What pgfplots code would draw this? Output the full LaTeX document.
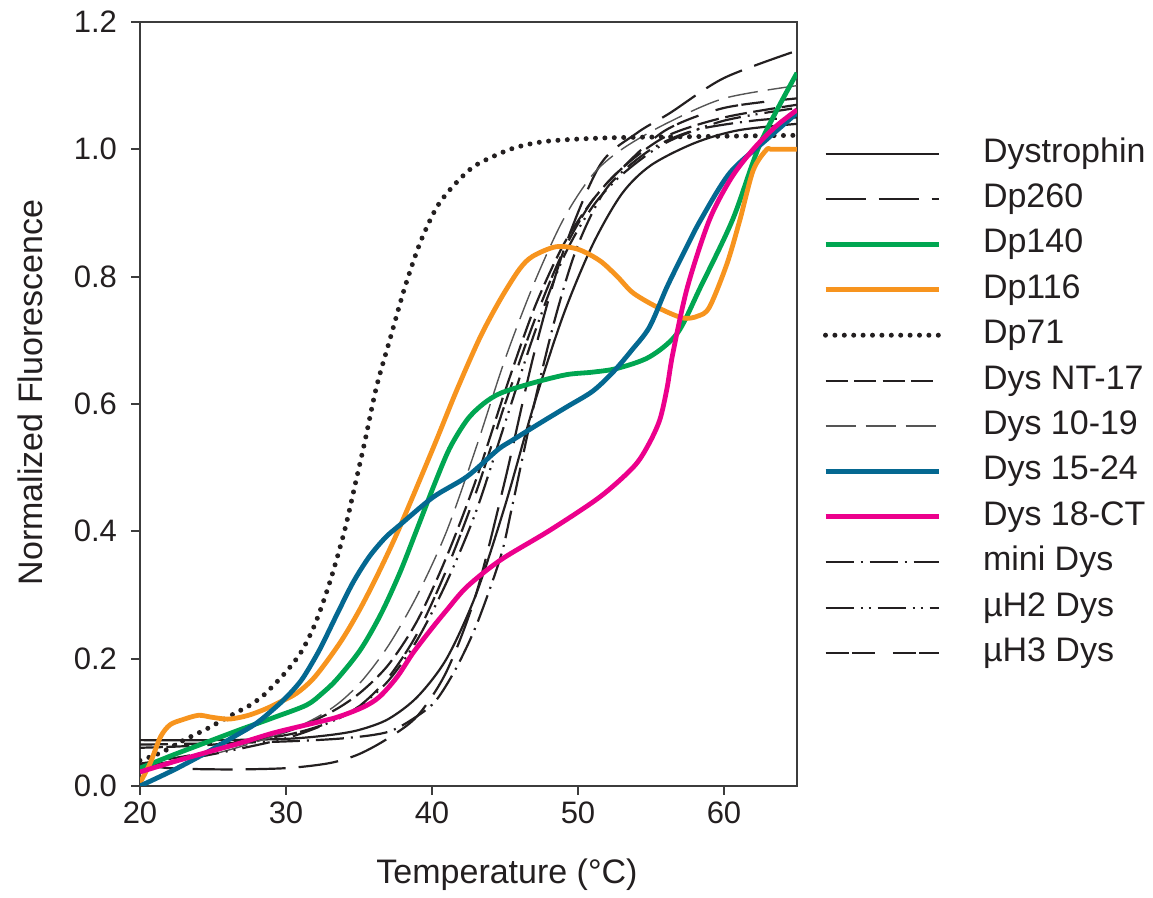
\documentclass[border=0pt]{standalone}
\usepackage{fontspec}
\setmainfont{Liberation Sans}
\usepackage{pgfplots}
\pgfplotsset{compat=1.18}
\definecolor{cgreen}{RGB}{0,166,81}
\definecolor{corange}{RGB}{247,148,30}
\definecolor{cblue}{RGB}{4,104,145}
\definecolor{cpink}{RGB}{236,0,140}
\definecolor{cblack}{RGB}{35,31,32}
\definecolor{cgray}{RGB}{85,85,85}
\definecolor{caxis}{RGB}{60,60,60}
\tikzset{
 sdys/.style={cblack, line width=1.1pt},
 sdp260/.style={cblack, line width=1.1pt, dash pattern=on 20pt off 6.5pt},
 sdp140/.style={cgreen, line width=2.4pt},
 sdp116/.style={corange, line width=2.4pt},
 sdp71/.style={cblack, line width=2.5pt, line cap=round, dash pattern=on 0pt off 4.7pt},
 snt/.style={cblack, line width=1.1pt, dash pattern=on 11pt off 3.3pt},
 sten/.style={cgray, line width=0.7pt, dash pattern=on 15pt off 5pt},
 sfif/.style={cblue, line width=2.4pt},
 seig/.style={cpink, line width=2.4pt},
 smini/.style={cblack, line width=1.1pt, dash pattern=on 14pt off 3.5pt on 1pt off 3.5pt},
 shtwo/.style={cblack, line width=1.1pt, dash pattern=on 14pt off 3.5pt on 1pt off 3pt on 1pt off 3.5pt},
 shthree/.style={cblack, line width=1.1pt, dash pattern=on 11.5pt off 1.7pt on 11.5pt off 9pt},
}
\begin{document}
\begin{tikzpicture}
\begin{axis}[
 scale only axis, width=328.5pt, height=382pt,
 xmin=20, xmax=65, ymin=0, ymax=1.2,
 xtick={20,30,40,50,60}, ytick={0,0.2,0.4,0.6,0.8,1.0,1.2},
 yticklabel style={/pgf/number format/.cd, fixed, fixed zerofill, precision=1, /tikz/.cd, xshift=-3.5pt},
 /pgf/number format/assume math mode=true,
 tick align=outside, major tick length=4.5pt,
 xtick pos=bottom, ytick pos=left,
 axis line style={caxis, line width=0.9pt},
 tick style={caxis, line width=0.9pt},
 ticklabel style={font=\fontsize{15.5}{18}\selectfont, text=cblack},
 xlabel={Temperature (°C)}, ylabel={Normalized Fluorescence},
 every axis x label/.style={at={(axis description cs:0.5586,-0.1165)}, anchor=center, font=\fontsize{17}{20}\selectfont, text=cblack},
 every axis y label/.style={at={(axis description cs:-0.1674,0.515)}, anchor=center, rotate=90, font=\fontsize{17}{20}\selectfont, text=cblack},
 legend style={draw=none, fill=none, at={(1.0396,0.848)}, anchor=north west, inner sep=0pt, outer sep=0pt, row sep=7.2pt, font=\fontsize{17}{20}\selectfont, text=cblack, nodes={inner sep=0pt, text height=12pt, text depth=3.5pt}},
 legend image code/.code={\draw[#1] (0pt,0pt) -- (56.5pt,0pt); \path (77.5pt,0pt);},
 legend cell align=left,
]
\addlegendimage{sdys}\addlegendentry{Dystrophin}
\addlegendimage{sdp260}\addlegendentry{Dp260}
\addlegendimage{sdp140}\addlegendentry{Dp140}
\addlegendimage{sdp116}\addlegendentry{Dp116}
\addlegendimage{sdp71}\addlegendentry{Dp71}
\addlegendimage{snt}\addlegendentry{Dys NT-17}
\addlegendimage{sten}\addlegendentry{Dys 10-19}
\addlegendimage{sfif}\addlegendentry{Dys 15-24}
\addlegendimage{seig}\addlegendentry{Dys 18-CT}
\addlegendimage{smini}\addlegendentry{mini Dys}
\addlegendimage{shtwo}\addlegendentry{µH2 Dys}
\addlegendimage{shthree}\addlegendentry{µH3 Dys}

% Dp260
\addplot[sdp260, smooth, forget plot] coordinates {(20,0.035) (22,0.028) (26,0.026) (30,0.028) (33,0.036) (35,0.05) (37,0.075) (39,0.11) (41,0.18) (43,0.3) (45,0.48) (47,0.68) (49,0.84) (51.5,0.975) (54,1.025) (56.3,1.057) (60,1.112) (65,1.155)};
% Dystrophin
\addplot[sdys, smooth, forget plot] coordinates {(20,0.072) (25,0.072) (30,0.074) (33,0.08) (35,0.088) (37,0.105) (39,0.14) (41,0.2) (43,0.3) (45,0.44) (47,0.6) (49,0.74) (51,0.85) (53,0.93) (55,0.975) (58,1.01) (61,1.03) (65,1.04)};
% Dys NT-17
\addplot[snt, smooth, forget plot] coordinates {(20,0.035) (25,0.055) (30,0.085) (33,0.115) (35,0.145) (37,0.19) (39,0.26) (41,0.36) (43,0.48) (45,0.62) (47,0.75) (49,0.85) (51,0.92) (53,0.97) (56,1.02) (60,1.05) (65,1.07)};
% Dys 10-19
\addplot[sten, smooth, forget plot] coordinates {(20,0.03) (25,0.05) (30,0.085) (33,0.12) (35,0.16) (37,0.22) (39,0.3) (41,0.4) (43,0.53) (45,0.67) (47,0.79) (49,0.89) (51,0.96) (53,1.0) (56,1.04) (60,1.08) (65,1.10)};
% mini Dys
\addplot[smini, smooth, forget plot] coordinates {(20,0.065) (25,0.067) (30,0.07) (34,0.075) (37,0.085) (39,0.11) (40.3,0.135) (41.7,0.187) (43.1,0.256) (44.7,0.36) (45.5,0.44) (47,0.6) (48.5,0.74) (50,0.85) (52,0.94) (55,1.0) (58,1.03) (62,1.045) (65,1.05)};
% muH2 Dys
\addplot[shtwo, smooth, forget plot] coordinates {(20,0.03) (25,0.05) (30,0.075) (33,0.1) (35,0.125) (37,0.165) (39,0.23) (41,0.32) (43,0.43) (45,0.57) (47,0.71) (49,0.83) (51,0.91) (53,0.96) (56,1.01) (60,1.045) (65,1.065)};
% muH3 Dys
\addplot[shthree, smooth, forget plot] coordinates {(20,0.06) (25,0.065) (30,0.08) (33,0.1) (35,0.125) (37,0.17) (39,0.24) (41,0.34) (43,0.46) (45,0.6) (47,0.73) (49,0.84) (51,0.92) (53,0.97) (56,1.03) (60,1.065) (65,1.08)};
% Dp71
\addplot[sdp71, smooth, forget plot] coordinates {(20,0.04) (21.5,0.053) (23,0.072) (24.6,0.09) (26,0.108) (27.7,0.129) (28.4,0.141) (29.8,0.174) (31,0.209) (32,0.255) (33,0.32) (34,0.4) (34.8,0.48) (35.4,0.541) (36.2,0.627) (37.1,0.70) (38.15,0.784) (39.2,0.854) (40.3,0.908) (41.4,0.941) (42.8,0.972) (44.4,0.991) (45.9,1.004) (48,1.013) (52,1.018) (58,1.02) (65,1.022)};
% Dp140
\addplot[sdp140, smooth, forget plot] coordinates {(20,0.028) (22.3,0.049) (24.6,0.069) (26.8,0.088) (29.1,0.107) (31.4,0.127) (32.5,0.146) (33.5,0.168) (35.1,0.214) (36.5,0.27) (37.8,0.335) (39,0.405) (40.1,0.47) (41.2,0.53) (42.4,0.575) (43.5,0.6) (44.7,0.617) (46.9,0.633) (49.2,0.646) (51,0.65) (52.7,0.656) (54.9,0.674) (56.8,0.711) (58.4,0.784) (60.6,0.89) (62.5,1.01) (65,1.12)};
% Dp116
\addplot[sdp116, smooth, forget plot] coordinates {(20,0.005) (20.7,0.036) (21.4,0.077) (22.05,0.096) (22.9,0.104) (24,0.111) (24.9,0.108) (26,0.105) (26.9,0.108) (27.7,0.113) (28.7,0.122) (29.6,0.132) (30.75,0.146) (32,0.172) (33.7,0.225) (35,0.275) (36.3,0.333) (37.8,0.407) (40.1,0.532) (41.7,0.622) (43.3,0.705) (44.7,0.765) (46,0.812) (46.9,0.832) (48.5,0.847) (50,0.843) (51.5,0.825) (52.7,0.80) (53.8,0.774) (55.6,0.75) (57.2,0.735) (58.2,0.738) (59,0.752) (60.2,0.82) (61.1,0.89) (62,0.967) (62.9,0.999) (63.3,1.0) (65,1.0)};
% Dys 15-24
\addplot[sfif, smooth, forget plot] coordinates {(20,0.0) (22.3,0.025) (24.6,0.053) (26.4,0.077) (28,0.099) (29.6,0.13) (30.5,0.151) (31.2,0.171) (32.3,0.214) (33.5,0.27) (34.6,0.32) (35.7,0.36) (36.8,0.39) (37.8,0.41) (40.1,0.454) (42.4,0.486) (44.5,0.528) (45.5,0.543) (47.4,0.57) (49.2,0.595) (51,0.62) (52.4,0.65) (53.7,0.685) (54.9,0.721) (56.1,0.784) (57.3,0.84) (58.4,0.889) (60.4,0.963) (62.9,1.015) (65,1.057)};
% Dys 18-CT
\addplot[seig, smooth, forget plot] coordinates {(20,0.022) (22.3,0.038) (24.6,0.053) (26.8,0.067) (29.1,0.083) (31.4,0.096) (33.5,0.108) (35.3,0.124) (36.4,0.14) (37.6,0.171) (38.7,0.209) (39.9,0.245) (41,0.276) (42.4,0.313) (44.7,0.355) (48.1,0.402) (51.5,0.454) (53.8,0.501) (54.8,0.535) (55.6,0.575) (56.1,0.625) (56.5,0.68) (57.5,0.784) (59,0.889) (60.5,0.955) (62,1.0) (63.5,1.035) (65,1.062)};

\coordinate (bbl) at (rel axis cs:-0.2131,-0.1453);
\coordinate (btr) at (rel axis cs:1.5419,1.0288);
\end{axis}
\path (bbl) rectangle (btr);
\end{tikzpicture}
\end{document}
